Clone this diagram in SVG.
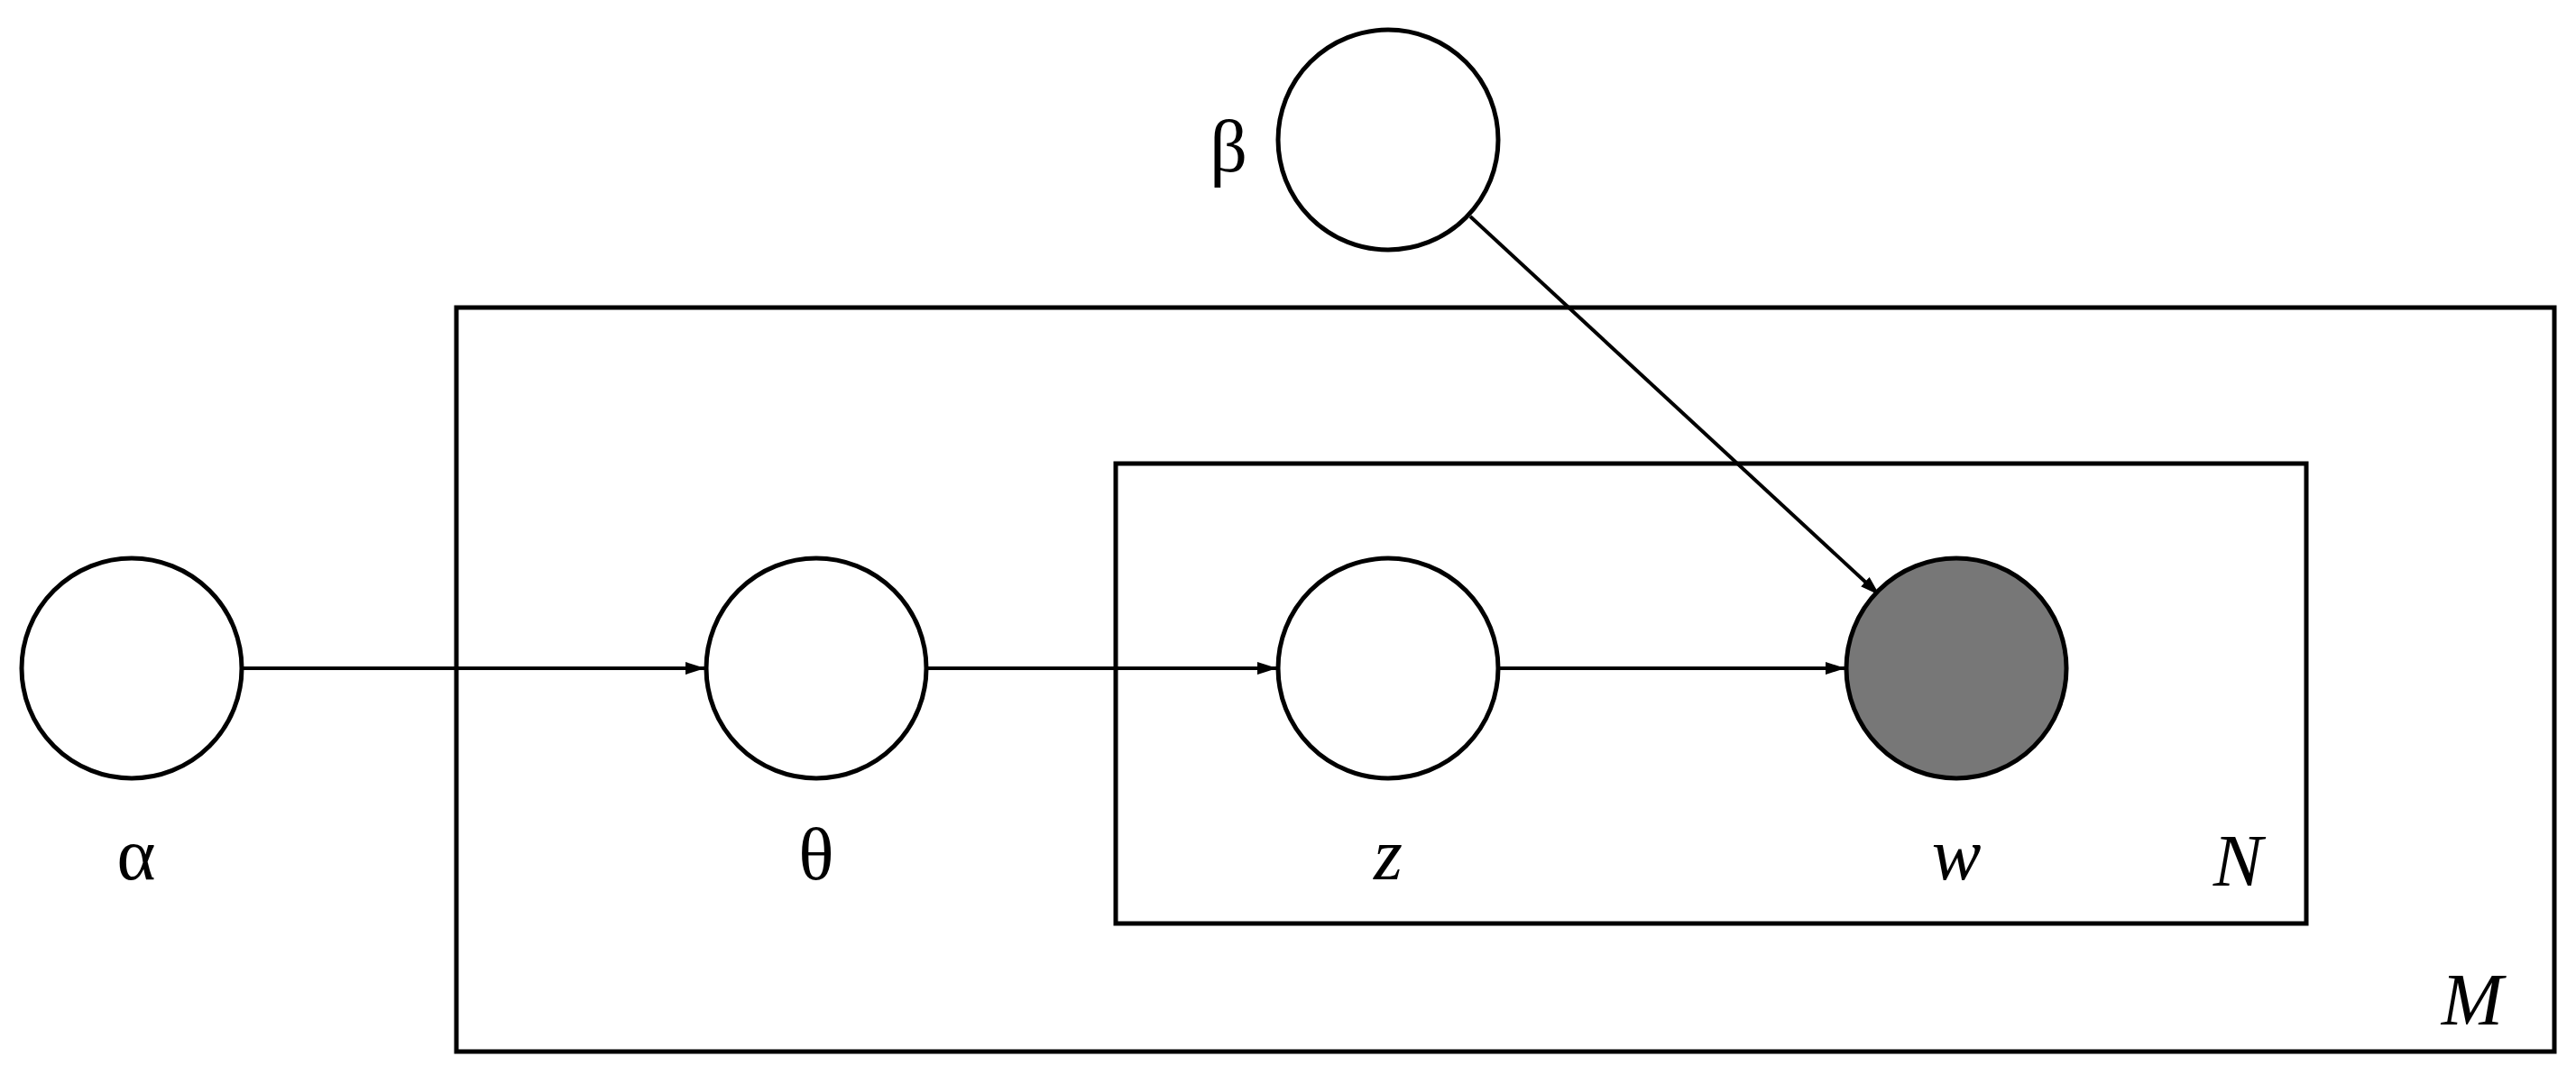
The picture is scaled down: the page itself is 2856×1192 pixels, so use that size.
<svg xmlns="http://www.w3.org/2000/svg" width="2856" height="1192" viewBox="0 0 2856 1192">
<style>
.n{fill:#fff;stroke:#000;stroke-width:5}
.p{fill:none;stroke:#000;stroke-width:5}
.e{stroke:#000;stroke-width:4;fill:none;marker-end:url(#a)}
text{font-family:"Liberation Serif",serif;font-size:82px;text-anchor:middle}
.i{font-style:italic}
</style>
<defs><marker id="a" viewBox="0 0 10 10" refX="10" refY="5" markerWidth="22" markerHeight="14" orient="auto" markerUnits="userSpaceOnUse" preserveAspectRatio="none"><path d="M0,0L10,5L0,10z"/></marker></defs>
<rect fill="#fff" width="2856" height="1192"/>
<g id="plateM"><rect class="p" x="506" y="341" width="2326" height="825"/><text class="i" x="2741" y="1136">M</text></g>
<g id="plateN"><rect class="p" x="1237" y="514" width="1320" height="510"/><text class="i" x="2481" y="982">N</text></g>
<g id="connectors">
<line class="e" x1="268" y1="741" x2="782" y2="741"/>
<line class="e" x1="1027" y1="741" x2="1416" y2="741"/>
<line class="e" x1="1661" y1="741" x2="2046" y2="741"/>
<line class="e" x1="1630" y1="240" x2="2084" y2="660"/>
</g>
<g id="alpha"><circle class="n" cx="146" cy="741" r="122"/><text x="151" y="975">α</text></g>
<g id="theta"><circle class="n" cx="905" cy="741" r="122"/><text x="905" y="975">θ</text></g>
<g id="z"><circle class="n" cx="1539" cy="741" r="122"/><text class="i" x="1539" y="975">z</text></g>
<g id="w"><circle class="n" style="fill:#777" cx="2169" cy="741" r="122"/><text class="i" x="2169" y="975">w</text></g>
<g id="beta"><circle class="n" cx="1539" cy="155" r="122"/><text x="1362" y="190">β</text></g>
</svg>
